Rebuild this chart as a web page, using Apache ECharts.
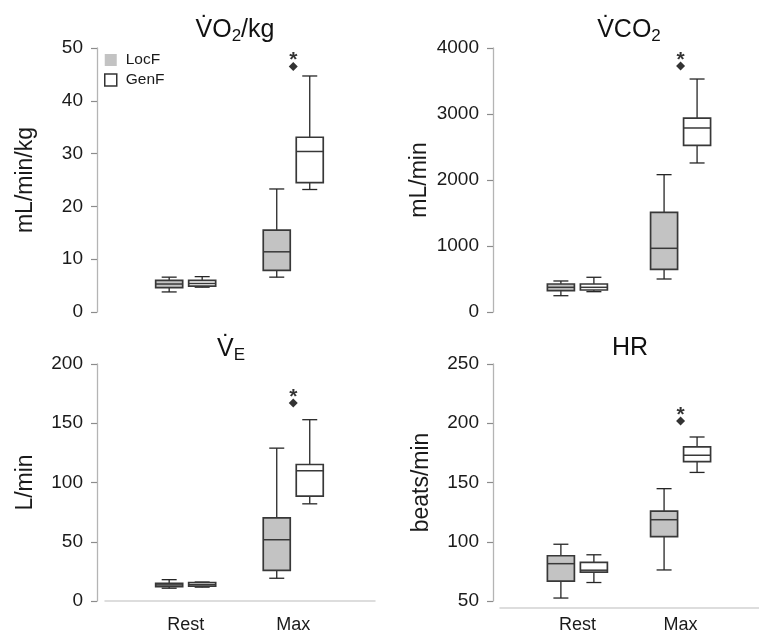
<!DOCTYPE html>
<html>
<head>
<meta charset="utf-8">
<script src="https://cdn.jsdelivr.net/npm/echarts@6/dist/echarts.min.js"></script>
<style>
  html, body { margin: 0; padding: 0; background: #fff; }
  #chart { width: 759px; height: 634px; }
</style>
</head>
<body>
<div id="chart"></div>
<script>
// Exercise test variables, rest vs. maximal effort, two patient groups.
// Each box: [min, Q1, median, Q3, max]
const categories = ['Rest', 'Max'];
const groups = ['LocF', 'GenF'];

const vo2kgLocF = [[3.8, 4.6, 5.3, 6.0, 6.6], [6.6, 7.9, 11.4, 15.5, 23.3]];
const vo2kgGenF = [[4.7, 4.9, 5.4, 6.0, 6.7], [23.2, 24.5, 30.4, 33.1, 44.7]];
const vo2kgOutlier = 46.5;

const vco2LocF = [[247, 323, 374, 424, 470], [500, 646, 965, 1510, 2081]];
const vco2GenF = [[308, 333, 374, 424, 526], [2258, 2525, 2788, 2939, 3530]];
const vco2Outlier = 3727;

const veLocF = [[10.8, 12.2, 13.6, 15.0, 18.0], [19.2, 25.9, 51.7, 70.1, 129]];
const veGenF = [[11.7, 12.6, 13.9, 15.6, 16.0], [82, 88.5, 109.9, 115.2, 153]];
const veOutlier = 167;

const hrLocF = [[52.5, 66.7, 81.5, 88.2, 97.9], [76.2, 104.4, 118.6, 125.9, 144.8]];
const hrGenF = [[65.6, 74.3, 76.0, 82.6, 89.0], [158.5, 167.7, 173.0, 180.0, 188.4]];
const hrOutlier = 202;

const yNames = ['mL/min/kg', 'mL/min', 'L/min', 'beats/min'];
const yMin = [0, 0, 0, 50];
const yMax = [50, 4000, 200, 250];
const yStep = [10, 1000, 50, 50];

const FONT = 'Liberation Sans, Arial, sans-serif';
const TEXT = '#1a1a1a';
const BORDER = '#383838';
const WHISKER = '#262626';
const LOC_FILL = '#c3c3c3';
const GEN_FILL = '#ffffff';
const BOX_W = 27;
const CAP_W = 15;
const SHIFT = 16.5;

const panels = [
  { locF: vo2kgLocF, genF: vo2kgGenF, outlier: vo2kgOutlier },
  { locF: vco2LocF, genF: vco2GenF, outlier: vco2Outlier },
  { locF: veLocF, genF: veGenF, outlier: veOutlier },
  { locF: hrLocF, genF: hrGenF, outlier: hrOutlier }
];

// plot rectangles of the 2x2 layout
const grids = [
  { left: 105, width: 270, top: 48, bottom: 322 },
  { left: 500, width: 270, top: 48, bottom: 322 },
  { left: 105, width: 270, top: 364, bottom: 30 },
  { left: 500, width: 270, top: 364, bottom: 31 }
];
const yOffsets = [8, 7, 8, 7];

function boxRenderer(fill, shift) {
  return function (params, api) {
    const x = api.value(0);
    const cx = api.coord([x, api.value(1)])[0] + shift;
    const yLo = api.coord([x, api.value(1)])[1];
    const yQ1 = api.coord([x, api.value(2)])[1];
    const yMed = api.coord([x, api.value(3)])[1];
    const yQ3 = api.coord([x, api.value(4)])[1];
    const yHi = api.coord([x, api.value(5)])[1];
    const hb = BOX_W / 2, hc = CAP_W / 2;
    const thin = { stroke: WHISKER, lineWidth: 1.3 };
    return {
      type: 'group',
      children: [
        { type: 'line', shape: { x1: cx, y1: yHi, x2: cx, y2: yQ3 }, style: thin },
        { type: 'line', shape: { x1: cx, y1: yQ1, x2: cx, y2: yLo }, style: thin },
        { type: 'line', shape: { x1: cx - hc, y1: yHi, x2: cx + hc, y2: yHi }, style: thin },
        { type: 'line', shape: { x1: cx - hc, y1: yLo, x2: cx + hc, y2: yLo }, style: thin },
        { type: 'rect', shape: { x: cx - hb, y: yQ3, width: BOX_W, height: yQ1 - yQ3 },
          style: { fill: fill, stroke: BORDER, lineWidth: 1.7 } },
        { type: 'line', shape: { x1: cx - hb, y1: yMed, x2: cx + hb, y2: yMed },
          style: { stroke: BORDER, lineWidth: 1.5 } }
      ]
    };
  };
}

const xAxes = [], yAxes = [], series = [];
panels.forEach(function (p, i) {
  const bottomRow = i >= 2;
  xAxes.push({
    gridIndex: i, type: 'value', min: 0.25, max: 2.76,
    offset: bottomRow ? 7 : 0,
    splitLine: { show: false },
    axisTick: { show: false },
    axisLine: { show: bottomRow, lineStyle: { color: '#d2d2d2', width: 1.5 } },
    axisLabel: {
      show: bottomRow, customValues: [1, 2], margin: 8,
      formatter: function (v) { return categories[Math.round(v) - 1] || ''; },
      color: TEXT, fontSize: 18, fontFamily: FONT
    }
  });
  yAxes.push({
    gridIndex: i, type: 'value', min: yMin[i], max: yMax[i], interval: yStep[i],
    offset: yOffsets[i],
    name: yNames[i], nameLocation: 'middle', nameGap: i === 1 ? 62 : 60,
    nameTextStyle: { color: TEXT, fontSize: 23, fontFamily: FONT },
    splitLine: { show: false },
    axisLine: { show: true, lineStyle: { color: '#b4b4b4', width: 1.3 } },
    axisTick: { show: true, length: 6, lineStyle: { color: '#8c8c8c', width: 1.2 } },
    axisLabel: {
      color: TEXT, fontSize: 19, fontFamily: FONT, margin: 14,
      formatter: function (v) { return String(v); }
    }
  });
  const toData = function (rows) {
    return rows.map(function (r, k) { return [k + 1].concat(r); });
  };
  series.push({
    type: 'custom', name: groups[0], xAxisIndex: i, yAxisIndex: i,
    itemStyle: { color: LOC_FILL },
    encode: { x: 0, y: [1, 2, 3, 4, 5] },
    renderItem: boxRenderer(LOC_FILL, -SHIFT),
    data: toData(p.locF)
  });
  series.push({
    type: 'custom', name: groups[1], xAxisIndex: i, yAxisIndex: i,
    itemStyle: { color: GEN_FILL, borderColor: BORDER },
    encode: { x: 0, y: [1, 2, 3, 4, 5] },
    renderItem: boxRenderer(GEN_FILL, SHIFT),
    data: toData(p.genF)
  });
  series.push({
    type: 'scatter', xAxisIndex: i, yAxisIndex: i,
    symbol: 'diamond', symbolSize: 9,
    itemStyle: { color: '#000' },
    label: { show: true, formatter: '*', position: 'top', distance: -9,
             color: '#000', fontSize: 21, fontWeight: 'bold', fontFamily: FONT },
    data: [[2, p.outlier]]
  });
});

function titleText(x, y, text) {
  return {
    type: 'text', x: x, y: y,
    style: {
      text: text, align: 'center', verticalAlign: 'middle',
      fill: '#111', fontFamily: FONT, fontSize: 25,
      rich: {
        m: { fontSize: 25, lineHeight: 30, fill: '#111', fontFamily: FONT },
        s: { fontSize: 17, lineHeight: 14, verticalAlign: 'bottom', fill: '#111', fontFamily: FONT }
      }
    }
  };
}

const chart = echarts.init(document.getElementById('chart'), null, { renderer: 'canvas' });
chart.setOption({
  animation: false,
  backgroundColor: '#fff',
  grid: grids,
  xAxis: xAxes,
  yAxis: yAxes,
  legend: {
    orient: 'vertical', left: 104, top: 52, padding: 0,
    itemWidth: 12, itemHeight: 12, itemGap: 4,
    selectedMode: false,
    textStyle: { color: TEXT, fontSize: 15.5, fontFamily: FONT, padding: [0, 0, 0, 4] },
    data: [
      { name: 'LocF', icon: 'rect', itemStyle: { color: LOC_FILL, borderWidth: 0 } },
      { name: 'GenF', icon: 'rect', itemStyle: { color: GEN_FILL, borderColor: '#333', borderWidth: 1.5 } }
    ]
  },
  graphic: [
    titleText(235, 30, '{m|V\u0307O}{s|2}{m|/kg}'),
    titleText(629, 30, '{m|V\u0307CO}{s|2}'),
    titleText(231, 349, '{m|V\u0307}{s|E}'),
    titleText(630, 348, '{m|HR}')
  ],
  series: series
});
</script>
</body>
</html>
